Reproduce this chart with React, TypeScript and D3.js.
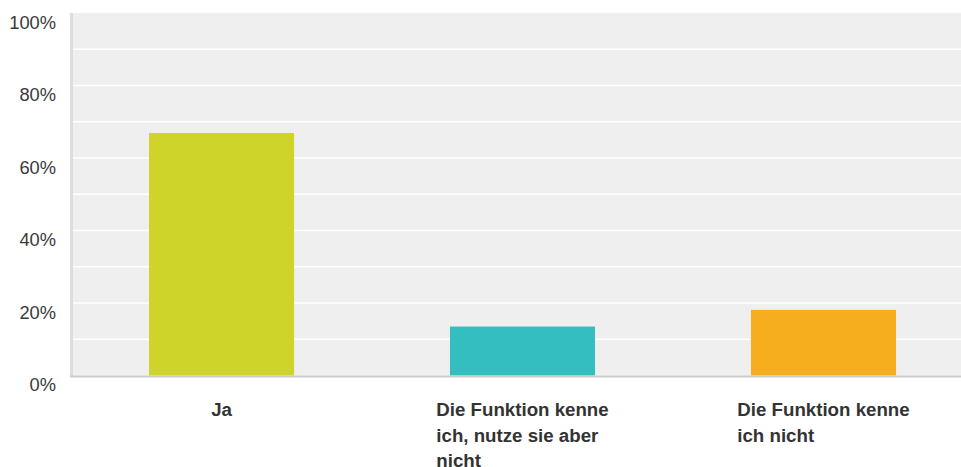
import React, { useEffect, useRef } from "react";
import * as d3 from "d3";

const categories: string[] = ["Ja", "Die Funktion kenne ich, nutze sie aber nicht", "Die Funktion kenne ich nicht"];
const categoryLines: string[][] = [
  ["Ja"],
  ["Die Funktion kenne", "ich, nutze sie aber", "nicht"],
  ["Die Funktion kenne", "ich nicht"],
];
const values: number[] = [66.9, 13.5, 18.1];
const colors: string[] = ["#CFD42A", "#34BEC0", "#F6AE1F"];
const yTicks: number[] = [0, 20, 40, 60, 80, 100];
const gridValues: number[] = [10, 20, 30, 40, 50, 60, 70, 80, 90];

const W = 961;
const H = 467;
const FONT = "Arial, 'Liberation Sans', Helvetica, sans-serif";

export default function App() {
  const ref = useRef<SVGSVGElement | null>(null);

  useEffect(() => {
    const svg = d3.select(ref.current);
    svg.selectAll("*").remove();

    const left = 73;
    const right = 972;
    const top = 13;
    const bottom = 375.5;

    const x = d3
      .scaleBand<string>()
      .domain(categories)
      .range([left, right])
      .paddingInner(0.518)
      .paddingOuter(0.2525);
    const y = d3.scaleLinear().domain([0, 100]).range([bottom, top]);

    svg
      .append("rect")
      .attr("x", left)
      .attr("y", top)
      .attr("width", right - left)
      .attr("height", bottom - top)
      .attr("fill", "#EFEFEF");

    svg
      .append("rect")
      .attr("x", 70)
      .attr("y", top)
      .attr("width", 3)
      .attr("height", bottom - top + 1)
      .attr("fill", "#DDDDDD");

    svg
      .selectAll("line.grid")
      .data(gridValues)
      .enter()
      .append("line")
      .attr("class", "grid")
      .attr("x1", left)
      .attr("x2", right)
      .attr("y1", (d) => y(d))
      .attr("y2", (d) => y(d))
      .attr("stroke", "#FFFFFF")
      .attr("stroke-width", 1.7);

    svg
      .selectAll("rect.bar")
      .data(values)
      .enter()
      .append("rect")
      .attr("class", "bar")
      .attr("x", (_d, i) => x(categories[i]) as number)
      .attr("width", x.bandwidth())
      .attr("y", (d) => y(d))
      .attr("height", (d) => bottom - y(d))
      .attr("fill", (_d, i) => colors[i]);

    svg
      .append("rect")
      .attr("x", 70)
      .attr("y", bottom)
      .attr("width", right - 70)
      .attr("height", 2)
      .attr("fill", "#CCCCCC");

    svg
      .selectAll("text.ylab")
      .data(yTicks)
      .enter()
      .append("text")
      .attr("class", "ylab")
      .attr("x", 56)
      .attr("y", (d) => y(d) + 15.5)
      .attr("text-anchor", "end")
      .attr("font-family", FONT)
      .attr("font-size", 18.3)
      .attr("fill", "#3A3A3A")
      .text((d) => `${d}%`);

    categoryLines.forEach((lines, i) => {
      const cx = (x(categories[i]) as number) + x.bandwidth() / 2;
      const g = svg.append("g");
      const texts = lines.map((ln, j) =>
        g
          .append("text")
          .attr("y", 416 + j * 25.5)
          .attr("font-family", FONT)
          .attr("font-size", 18.7)
          .attr("font-weight", "bold")
          .attr("fill", "#333333")
          .text(ln)
      );
      let maxW = 0;
      texts.forEach((t) => {
        const node = t.node() as SVGTextElement;
        maxW = Math.max(maxW, node.getComputedTextLength());
      });
      texts.forEach((t) => t.attr("x", cx - maxW / 2));
    });
  }, []);

  return (
    <svg
      ref={ref}
      width={W}
      height={H}
      style={{ position: "absolute", left: 0, top: 0, background: "#FFFFFF" }}
    />
  );
}
